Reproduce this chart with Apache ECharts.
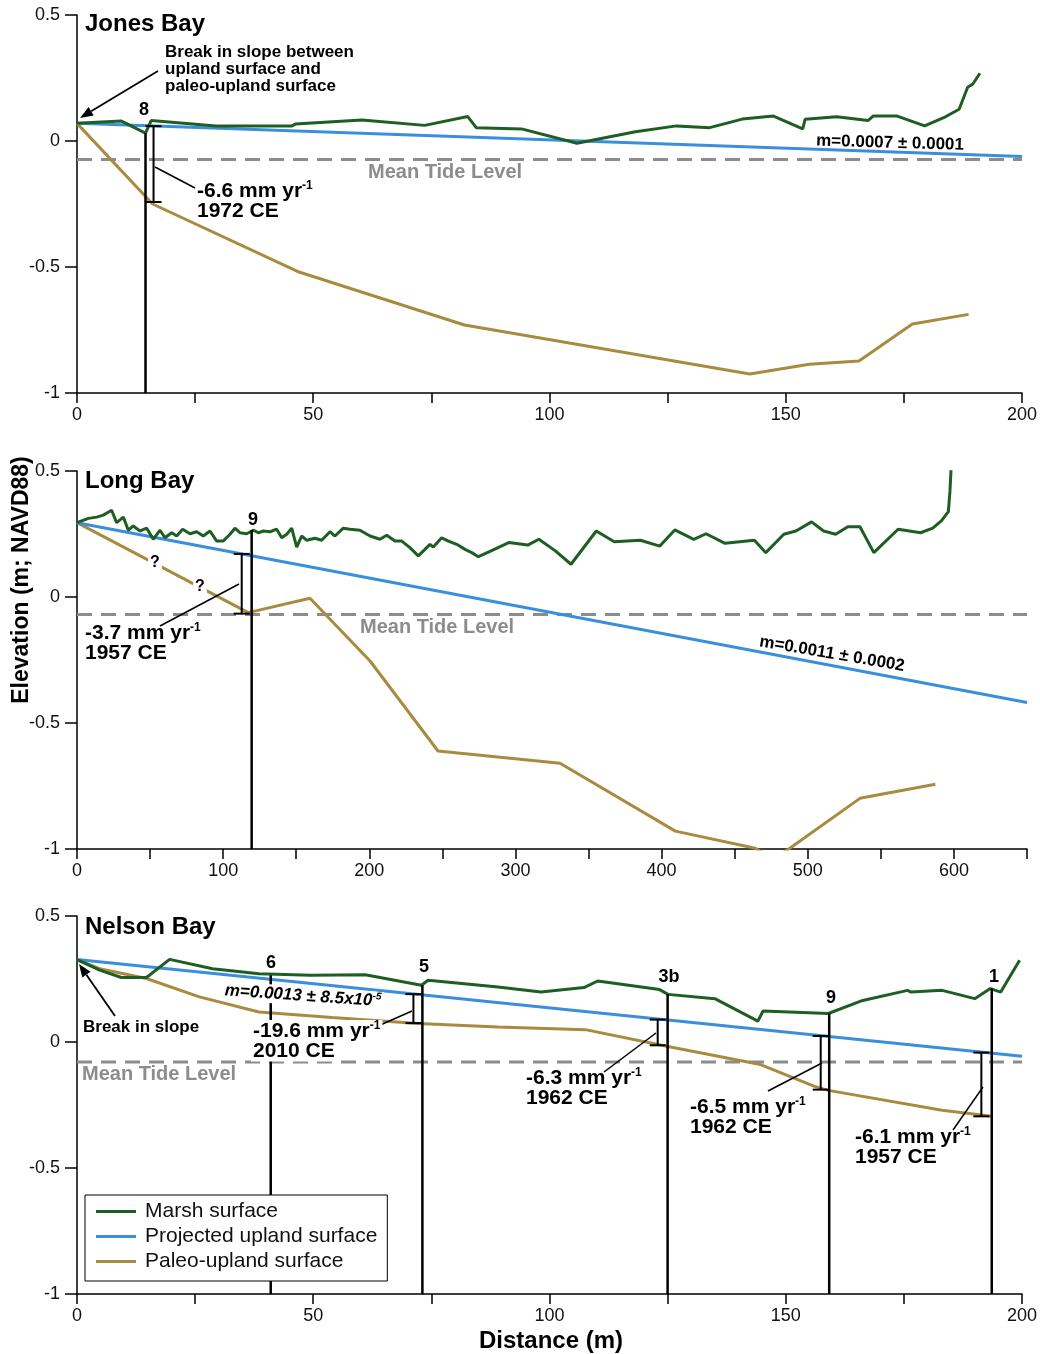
<!DOCTYPE html>
<html>
<head>
<meta charset="utf-8">
<script src="https://cdn.jsdelivr.net/npm/echarts@6/dist/echarts.min.js"></script>
<style>
  html, body { margin: 0; padding: 0; background: #fff; }
  #chart { width: 1040px; height: 1354px; }
</style>
</head>
<body>
<div id="chart"></div>
<script>
const FONT = '"Liberation Sans", Arial, Helvetica, sans-serif';
const GREEN = '#1d5e22', BLUE = '#3a8fdc', GOLD = '#a98b3f', GREY = '#8c8c8c';

// Jones Bay
const jonesMarsh = [[0,0.07],[9.4,0.079],[14.5,0.031],[15.7,0.081],[29.4,0.06],[45.5,0.06],[46.2,0.067],[60.3,0.083],
  [73.6,0.062],[82.7,0.097],[84.5,0.053],[94.1,0.048],[105.8,-0.009],[118.2,0.037],[126.9,0.06],[133.9,0.053],
  [140.8,0.087],[147.4,0.099],[153.6,0.048],[154.1,0.086],[160.8,0.096],[167.4,0.081],[168.5,0.099],[173.6,0.099],
  [179.4,0.06],[183.8,0.096],[186.7,0.126],[188.5,0.213],[189.6,0.226],[191.1,0.269]];
const jonesUpland = [[0,0.07],[200,-0.062]];
const jonesPaleo = [[0,0.07],[16,-0.25],[47,-0.52],[82,-0.73],[142.4,-0.925],[155,-0.886],[165.5,-0.873],
  [176.8,-0.726],[188.7,-0.688]];

// Long Bay
const longMarsh = [[0,0.295],[7.8,0.312],[13.5,0.317],[18,0.325],[23.7,0.344],[27.1,0.295],[31.7,0.317],[35.1,0.265],
  [38.5,0.282],[43.1,0.262],[47.7,0.273],[52.2,0.229],[56.8,0.265],[60.2,0.235],[64.8,0.255],[68.2,0.242],[72.3,0.269],
  [77.3,0.251],[81.9,0.259],[86.4,0.242],[91,0.262],[95.6,0.222],[100.1,0.222],[104.7,0.249],[108.1,0.273],[111.5,0.255],
  [116.1,0.251],[120.6,0.265],[124.1,0.255],[127.5,0.262],[132.1,0.259],[136.6,0.269],[140.1,0.235],[143.5,0.249],
  [146.9,0.273],[150.3,0.198],[153.7,0.242],[157.2,0.225],[162.8,0.233],[167.4,0.225],[173.1,0.259],[176.5,0.242],
  [182.2,0.273],[186.8,0.269],[193.6,0.265],[200.5,0.242],[207.3,0.229],[211.9,0.245],[217.6,0.222],[222.2,0.222],
  [227.8,0.196],[233.5,0.163],[238.1,0.189],[241.5,0.209],[243.8,0.198],[249.5,0.235],[254.1,0.222],[259.8,0.209],
  [265.5,0.189],[270.1,0.176],[274.6,0.16],[282.6,0.181],[295.4,0.216],[308.4,0.206],[316,0.229],[327.3,0.183],
  [338,0.13],[355.3,0.262],[367.6,0.219],[385.4,0.225],[398.8,0.202],[409,0.266],[422,0.229],[430.4,0.251],
  [443.4,0.213],[463.5,0.225],[471.3,0.176],[483.6,0.249],[491.9,0.262],[502.6,0.298],[510.8,0.262],[519.1,0.249],
  [527.4,0.279],[535.7,0.279],[545.2,0.176],[561.8,0.269],[577.2,0.255],[585.5,0.273],[591.4,0.302],[596.2,0.339],
  [597.3,0.421],[598,0.503]];
const longUpland = [[0,0.295],[650,-0.419]];
const longPaleo = [[0,0.295],[117.2,-0.062],[159.4,-0.005],[200.5,-0.254],[247,-0.611],[330.5,-0.66],[409.4,-0.929],
  [464.1,-0.997],[476,-1.04],[487,-1.0],[535.7,-0.799],[587.3,-0.743]];

// Nelson Bay
const nelsonMarsh = [[0,0.327],[4.8,0.285],[9.4,0.256],[14.7,0.256],[19.6,0.328],[28.7,0.291],[38.5,0.271],[49.4,0.265],
  [61,0.267],[72.9,0.225],[74.3,0.245],[89.1,0.218],[98.2,0.198],[107.3,0.216],[110.2,0.242],[123.3,0.208],[125.1,0.189],
  [135,0.172],[144.1,0.083],[145.2,0.123],[159,0.113],[166.3,0.165],[175.8,0.205],[176.5,0.198],[183.1,0.205],
  [190,0.172],[193.3,0.212],[195.5,0.198],[199.5,0.324]];
const nelsonUpland = [[0,0.327],[200,-0.057]];
const nelsonPaleo = [[0,0.327],[4.8,0.291],[14.7,0.252],[25.9,0.179],[38.5,0.119],[54,0.097],[72.2,0.073],[89.1,0.06],
  [107.6,0.049],[124.8,-0.017],[144.4,-0.088],[156.1,-0.176],[159,-0.192],[183.1,-0.271],[193.6,-0.295]];

const marsh = [jonesMarsh, longMarsh, nelsonMarsh];
const upland = [jonesUpland, longUpland, nelsonUpland];
const paleo = [jonesPaleo, longPaleo, nelsonPaleo];
const meanTide = [-0.073, -0.069, -0.079];
const xMax = [200, 650, 200];
const xStep = [50, 100, 50];
// core: [distance, top elevation]
const cores = [
  [[14.5, 0.031]],
  [[119.5, 0.265]],
  [[41, 0.265], [73.1, 0.225], [125, 0.189], [159.2, 0.113], [193.6, 0.212]]
];
// bracket: [distance, upper, lower]
const brackets = [
  [[16.2, 0.059, -0.242]],
  [[112.7, 0.171, -0.066]],
  [[71.2, 0.19, 0.075], [122.9, 0.089, -0.013], [157.4, 0.024, -0.189], [191.4, -0.042, -0.295]]
];

const gridTops = [15, 471, 916];

var chart = echarts.init(document.getElementById('chart'));

function coreItem(params, api) {
  var a = api.coord([api.value(0), api.value(1)]);
  var b = api.coord([api.value(0), -1]);
  return { type: 'line', shape: { x1: a[0], y1: a[1], x2: b[0], y2: b[1] },
    style: { stroke: '#000', lineWidth: 2.5 } };
}
function bracketItem(params, api) {
  var a = api.coord([api.value(0), api.value(1)]);
  var b = api.coord([api.value(0), api.value(2)]);
  var w = 8, st = { stroke: '#000', lineWidth: 2 };
  return { type: 'group', children: [
    { type: 'line', shape: { x1: a[0], y1: a[1], x2: b[0], y2: b[1] }, style: st },
    { type: 'line', shape: { x1: a[0] - w, y1: a[1], x2: a[0] + w, y2: a[1] }, style: st },
    { type: 'line', shape: { x1: b[0] - w, y1: b[1], x2: b[0] + w, y2: b[1] }, style: st }
  ] };
}

var grids = [], xAxes = [], yAxes = [], series = [];
for (var i = 0; i < 3; i++) {
  grids.push({ left: 77, width: 950, top: gridTops[i], height: 378 });
  xAxes.push({
    type: 'value', gridIndex: i, min: 0, max: xMax[i], interval: xStep[i],
    axisLine: { onZero: false, lineStyle: { color: '#000', width: 1.5 } },
    axisTick: { length: 10, lineStyle: { color: '#000', width: 1.5 } },
    minorTick: { show: true, splitNumber: 2, length: 10, lineStyle: { color: '#000', width: 1.5 } },
    splitLine: { show: false },
    axisLabel: { color: '#111', fontSize: 18, margin: 13, fontFamily: FONT,
      showMaxLabel: xMax[i] % xStep[i] === 0 }
  });
  yAxes.push({
    type: 'value', gridIndex: i, min: -1, max: 0.5, interval: 0.5,
    axisLine: { show: true, onZero: false, lineStyle: { color: '#000', width: 1.5 } },
    axisTick: { show: true, length: 12, lineStyle: { color: '#000', width: 1.5 } },
    splitLine: { show: false },
    axisLabel: { color: '#111', fontSize: 18, margin: 17, fontFamily: FONT }
  });
  series.push({
    name: 'Mean Tide Level', type: 'line', xAxisIndex: i, yAxisIndex: i, symbol: 'none',
    data: [[0, meanTide[i]], [xMax[i], meanTide[i]]],
    lineStyle: { color: GREY, width: 3, type: [15, 9] }, z: 1
  });
  series.push({
    name: 'Paleo-upland surface', type: 'line', xAxisIndex: i, yAxisIndex: i, symbol: 'none',
    data: paleo[i], lineStyle: { color: GOLD, width: 3 }, itemStyle: { color: GOLD }, z: 2
  });
  series.push({
    name: 'Projected upland surface', type: 'line', xAxisIndex: i, yAxisIndex: i, symbol: 'none',
    data: upland[i], lineStyle: { color: BLUE, width: 3 }, itemStyle: { color: BLUE }, z: 3
  });
  series.push({
    name: 'Marsh surface', type: 'line', xAxisIndex: i, yAxisIndex: i, symbol: 'none',
    data: marsh[i], lineStyle: { color: GREEN, width: 3 }, itemStyle: { color: GREEN }, z: 4
  });
  series.push({
    type: 'custom', xAxisIndex: i, yAxisIndex: i, renderItem: coreItem,
    encode: { x: 0, y: 1 }, data: cores[i], z: 5
  });
  series.push({
    type: 'custom', xAxisIndex: i, yAxisIndex: i, renderItem: bracketItem,
    encode: { x: 0, y: [1, 2] }, data: brackets[i], z: 6
  });
}

function txt(x, y, text, size, opt) {
  opt = opt || {};
  var style = {
    text: text, fill: opt.fill || '#000',
    font: (opt.italic ? 'italic ' : '') + (opt.normal ? '' : 'bold ') + size + 'px ' + FONT,
    textAlign: opt.align || 'left', align: opt.align || 'left',
    textVerticalAlign: 'middle', verticalAlign: 'middle'
  };
  if (opt.bg) { style.backgroundColor = '#fff'; style.padding = opt.pad || [0, 2]; }
  if (opt.rich) style.rich = opt.rich;
  return { type: 'text', x: x, y: y, rotation: opt.rotation || 0, z: 50, style: style };
}
function rate(x, y, main, year, opt) {
  opt = opt || {};
  var rich = {
    a: { font: 'bold 21px ' + FONT, lineHeight: 22 },
    s: { font: 'bold 12px ' + FONT, lineHeight: 22, verticalAlign: 'top', textVerticalAlign: 'top' }
  };
  return [
    txt(x, y, '{a|' + main + '}{s|-1}', 21, { rich: rich, bg: opt.bg }),
    txt(x, y + 20, year, 21, { bg: opt.bg })
  ];
}
function seg(x1, y1, x2, y2, w) {
  return { type: 'line', z: 49, shape: { x1: x1, y1: y1, x2: x2, y2: y2 },
    style: { stroke: '#000', lineWidth: w || 1.5 } };
}
function arrow(x1, y1, x2, y2) {
  var ang = Math.atan2(y2 - y1, x2 - x1), L = 13, W = 5;
  var bx = x2 - L * Math.cos(ang), by = y2 - L * Math.sin(ang);
  var px = -Math.sin(ang) * W, py = Math.cos(ang) * W;
  return [seg(x1, y1, bx, by, 1.8),
    { type: 'polygon', z: 49, shape: { points: [[x2, y2], [bx + px, by + py], [bx - px, by - py]] },
      style: { fill: '#000' } }];
}

var g = [];
// titles
g.push(txt(85, 24, 'Jones Bay', 24));
g.push(txt(85, 481, 'Long Bay', 24));
g.push(txt(85, 927, 'Nelson Bay', 24));
// Jones Bay notes
g.push(txt(165, 52, 'Break in slope between', 17));
g.push(txt(165, 69, 'upland surface and', 17));
g.push(txt(165, 86, 'paleo-upland surface', 17));
g = g.concat(arrow(158, 71, 80, 118));
g.push(txt(144, 110, '8', 18, { align: 'center' }));
g.push(seg(155, 167, 195, 188));
g = g.concat(rate(197, 191, '-6.6 mm yr', '1972 CE'));
g.push(txt(368, 172, 'Mean Tide Level', 20, { fill: GREY }));
g.push(txt(890, 143, 'm=0.0007 \u00b1 0.0001', 17, { align: 'center', rotation: -0.03 }));
// Long Bay notes
g.push(txt(253, 520, '9', 18, { align: 'center' }));
g.push(txt(155, 563, '?', 16, { align: 'center', bg: true }));
g.push(txt(200, 587, '?', 16, { align: 'center', bg: true }));
g.push(seg(239, 584, 160, 626));
g = g.concat(rate(85, 633, '-3.7 mm yr', '1957 CE'));
g.push(txt(360, 627, 'Mean Tide Level', 20, { fill: GREY }));
g.push(txt(832, 654, 'm=0.0011 \u00b1 0.0002', 17, { align: 'center', rotation: -0.17 }));
// Nelson Bay notes
g.push(txt(271, 963, '6', 18, { align: 'center' }));
g.push(txt(424, 967, '5', 18, { align: 'center' }));
g.push(txt(669, 977, '3b', 18, { align: 'center' }));
g.push(txt(831, 998, '9', 18, { align: 'center' }));
g.push(txt(994, 977, '1', 18, { align: 'center' }));
g.push(txt(303, 996, '{a|m=0.0013 \u00b1 8.5x10}{s|-5}', 17, {
  align: 'center', rotation: -0.07, bg: true,
  rich: { a: { font: 'italic bold 17px ' + FONT, lineHeight: 19 },
          s: { font: 'italic bold 10px ' + FONT, lineHeight: 19, verticalAlign: 'top', textVerticalAlign: 'top' } }
}));
g.push(seg(412, 1011, 378, 1026));
g = g.concat(rate(251, 1031, '-19.6 mm yr', '2010 CE', { bg: true }));
g.push(txt(83, 1027, 'Break in slope', 17));
g = g.concat(arrow(115, 1016, 79, 964));
g.push(txt(82, 1074, 'Mean Tide Level', 20, { fill: GREY }));
g.push(seg(656, 1033, 604, 1072));
g = g.concat(rate(526, 1078, '-6.3 mm yr', '1962 CE'));
g.push(seg(822, 1063, 768, 1091));
g = g.concat(rate(690, 1107, '-6.5 mm yr', '1962 CE'));
g.push(seg(983, 1087, 953, 1130));
g = g.concat(rate(855, 1137, '-6.1 mm yr', '1957 CE'));
// axis titles
g.push(txt(551, 1341, 'Distance (m)', 24, { align: 'center' }));
g.push(txt(22, 580, 'Elevation (m; NAVD88)', 23, { align: 'center', rotation: Math.PI / 2 }));

chart.setOption({
  animation: false,
  backgroundColor: '#fff',
  textStyle: { fontFamily: FONT },
  grid: grids,
  xAxis: xAxes,
  yAxis: yAxes,
  series: series,
  legend: {
    data: ['Marsh surface', 'Projected upland surface', 'Paleo-upland surface'],
    left: 85, top: 1195, orient: 'vertical', icon: 'rect', z: 20,
    itemWidth: 40, itemHeight: 3, itemGap: 4,
    padding: [6, 10, 9, 11], backgroundColor: '#fff', borderColor: '#000', borderWidth: 1,
    textStyle: { fontFamily: FONT, fontSize: 21, color: '#111', padding: [0, 0, 0, 4] },
    selectedMode: false
  },
  graphic: g
});
</script>
</body>
</html>
